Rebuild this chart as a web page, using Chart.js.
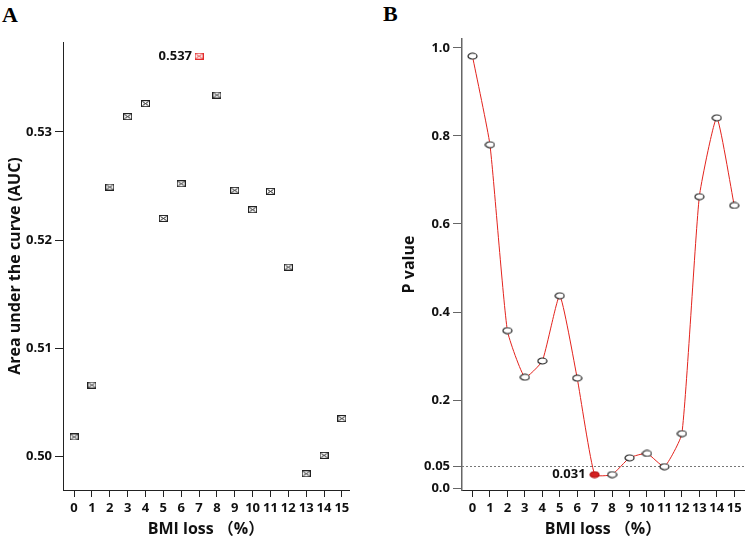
<!DOCTYPE html>
<html>
<head>
<meta charset="utf-8">
<script src="https://cdn.jsdelivr.net/npm/chart.js@4"></script>
<style>
body{margin:0;background:#fff;width:750px;height:539px;overflow:hidden;position:relative;}
canvas{position:absolute;top:0;}
#chartA{left:0}
#chartB{left:375px}
.panel{position:absolute;font:bold 22px "Liberation Serif",serif;color:#000;line-height:1;}
</style>
</head>
<body>
<div class="panel" style="left:2px;top:4px">A</div>
<div class="panel" style="left:383px;top:3px">B</div>
<canvas id="chartA" width="375" height="539"></canvas>
<canvas id="chartB" width="375" height="539"></canvas>
<script>
// BMI loss categories (%)
var bmiLoss = [0, 1, 2, 3, 4, 5, 6, 7, 8, 9, 10, 11, 12, 13, 14, 15];
// panel A: AUC per cut-off
var aucValues = [0.5018, 0.5066, 0.5249, 0.5314, 0.5326, 0.5220, 0.5252, 0.537,
                 0.5334, 0.5246, 0.5228, 0.5245, 0.5175, 0.4984, 0.5001, 0.5035];
// panel B: P value per cut-off
var pValues = [0.981, 0.780, 0.358, 0.252, 0.289, 0.437, 0.250, 0.031,
               0.031, 0.069, 0.079, 0.049, 0.124, 0.662, 0.841, 0.642];
var aucTicks = [0.50, 0.51, 0.52, 0.53];
var aucTickLabels = ['0.50', '0.51', '0.52', '0.53'];
var pTicks = [0, 0.05, 0.2, 0.4, 0.6, 0.8, 1.0];
var pTickLabels = ['0.0', '0.05', '0.2', '0.4', '0.6', '0.8', '1.0'];
var bestIndex = 7;
var pCutoff = 0.05;

var tickFont = {family: '"Open Sans", sans-serif', size: 13, weight: 'bold'};
var titleFont = {family: '"Open Sans", "Noto Sans CJK SC", sans-serif', size: 16, weight: 'bold', lineHeight: 1.2};

// little marker pictures
function boxMarker(color) {
    var c = document.createElement('canvas');
    c.width = 9; c.height = 7;
    var g = c.getContext('2d');
    g.strokeStyle = color; g.lineWidth = 1;
    g.strokeRect(0.5, 0.5, 8, 6);
    g.beginPath();
    g.moveTo(1.5, 1.5); g.lineTo(7.5, 5.5);
    g.moveTo(7.5, 1.5); g.lineTo(1.5, 5.5);
    g.stroke();
    return c;
}
function ringMarker(stroke, fill) {
    var c = document.createElement('canvas');
    c.width = 11; c.height = 8;
    var g = c.getContext('2d');
    g.beginPath();
    g.ellipse(5.5, 4, 4.5, 3, 0, 0, Math.PI * 2);
    g.fillStyle = fill; g.fill();
    g.strokeStyle = stroke; g.lineWidth = 1.2; g.stroke();
    return c;
}

var pointLabel = {
    id: 'pointLabel',
    afterDatasetsDraw: function (chart, args, opts) {
        var pt = chart.getDatasetMeta(0).data[opts.index];
        var ctx = chart.ctx;
        ctx.save();
        ctx.font = 'bold 13px "Open Sans", sans-serif';
        ctx.fillStyle = '#111';
        ctx.textAlign = 'right';
        ctx.textBaseline = 'middle';
        ctx.fillText(opts.text, pt.x - opts.gap, pt.y);
        ctx.restore();
    }
};

var cutoffLine = {
    id: 'cutoffLine',
    beforeDatasetsDraw: function (chart, args, opts) {
        if (!opts.show) return;
        var y = chart.scales.y.getPixelForValue(pCutoff);
        var a = chart.chartArea;
        var ctx = chart.ctx;
        ctx.save();
        ctx.strokeStyle = '#777';
        ctx.lineWidth = 1;
        ctx.setLineDash([2, 2]);
        ctx.beginPath();
        ctx.moveTo(a.left, Math.round(y) + 0.5);
        ctx.lineTo(a.right, Math.round(y) + 0.5);
        ctx.stroke();
        ctx.restore();
    }
};

function xAxis(min, max, color) {
    return {
        type: 'linear', min: min, max: max,
        afterBuildTicks: function (s) { s.ticks = bmiLoss.map(function (v) { return {value: v}; }); },
        afterFit: function (s) { s.height = 49; },
        grid: {drawOnChartArea: false, drawTicks: true, tickLength: 7, color: color},
        border: {color: color, width: 1},
        ticks: {font: tickFont, color: '#111', padding: 3, maxRotation: 0,
                callback: function (v) { return String(v); }},
        title: {display: true, text: 'BMI loss （%）', font: titleFont, color: '#111',
                padding: {top: 9.4, bottom: 0}}
    };
}

var axisA = xAxis(-0.62, 15.4, '#222');
var chartA = new Chart(document.getElementById('chartA'), {
    type: 'scatter',
    data: {
        datasets: [{
            data: bmiLoss.map(function (x, i) { return {x: x, y: aucValues[i]}; }),
            pointStyle: bmiLoss.map(function (x, i) { return boxMarker(i === bestIndex ? '#e32b2b' : '#222'); }),
            pointRadius: 5
        }]
    },
    options: {
        responsive: false, animation: false, devicePixelRatio: 1,
        layout: {padding: {top: 42, right: 26, left: 0, bottom: 0}},
        plugins: {
            legend: {display: false}, tooltip: {enabled: false},
            pointLabel: {index: bestIndex, text: aucValues[bestIndex].toFixed(3), gap: 7},
            cutoffLine: {show: false}
        },
        scales: {
            x: axisA,
            y: {
                min: 0.4969, max: 0.5383,
                afterBuildTicks: function (s) { s.ticks = aucTicks.map(function (v) { return {value: v}; }); },
                afterFit: function (s) { s.width = 63; },
                grid: {drawOnChartArea: false, drawTicks: true, tickLength: 8, color: '#222'},
                border: {color: '#222', width: 1},
                ticks: {font: tickFont, color: '#111', padding: 3,
                        callback: function (v, i) { return aucTickLabels[i]; }},
                title: {display: true, text: 'Area under the curve (AUC)', font: titleFont, color: '#111',
                        padding: {top: 5.4, bottom: 0}}
            }
        }
    },
    plugins: [pointLabel, cutoffLine]
});

var axisB = xAxis(-0.6, 15.56, '#222');
var chartB = new Chart(document.getElementById('chartB'), {
    type: 'line',
    data: {
        datasets: [{
            data: bmiLoss.map(function (x, i) { return {x: x, y: pValues[i]}; }),
            borderColor: '#e3231d',
            borderWidth: 1,
            tension: 0.15,
            pointStyle: bmiLoss.map(function (x, i) {
                return i === bestIndex ? ringMarker('#b01010', '#d42020') : ringMarker('#222', '#fff');
            }),
            pointRadius: 5
        }]
    },
    options: {
        responsive: false, animation: false, devicePixelRatio: 1,
        layout: {padding: {top: 39, right: 0, left: 0, bottom: 0}},
        plugins: {
            legend: {display: false}, tooltip: {enabled: false},
            pointLabel: {index: bestIndex, text: pValues[bestIndex].toFixed(3), gap: 9},
            cutoffLine: {show: true}
        },
        scales: {
            x: axisB,
            y: {
                min: -0.004, max: 1.02,
                afterBuildTicks: function (s) { s.ticks = pTicks.map(function (v) { return {value: v}; }); },
                afterFit: function (s) { s.width = 87; },
                grid: {drawOnChartArea: false, drawTicks: true, tickLength: 9, color: '#666'},
                border: {color: '#666', width: 1.5},
                ticks: {font: tickFont, color: '#111', padding: 3,
                        callback: function (v, i) { return pTickLabels[i]; }},
                title: {display: true, text: 'P value', font: titleFont, color: '#111',
                        padding: {top: 24.4, bottom: 0}}
            }
        }
    },
    plugins: [pointLabel, cutoffLine]
});
</script>
</body>
</html>
